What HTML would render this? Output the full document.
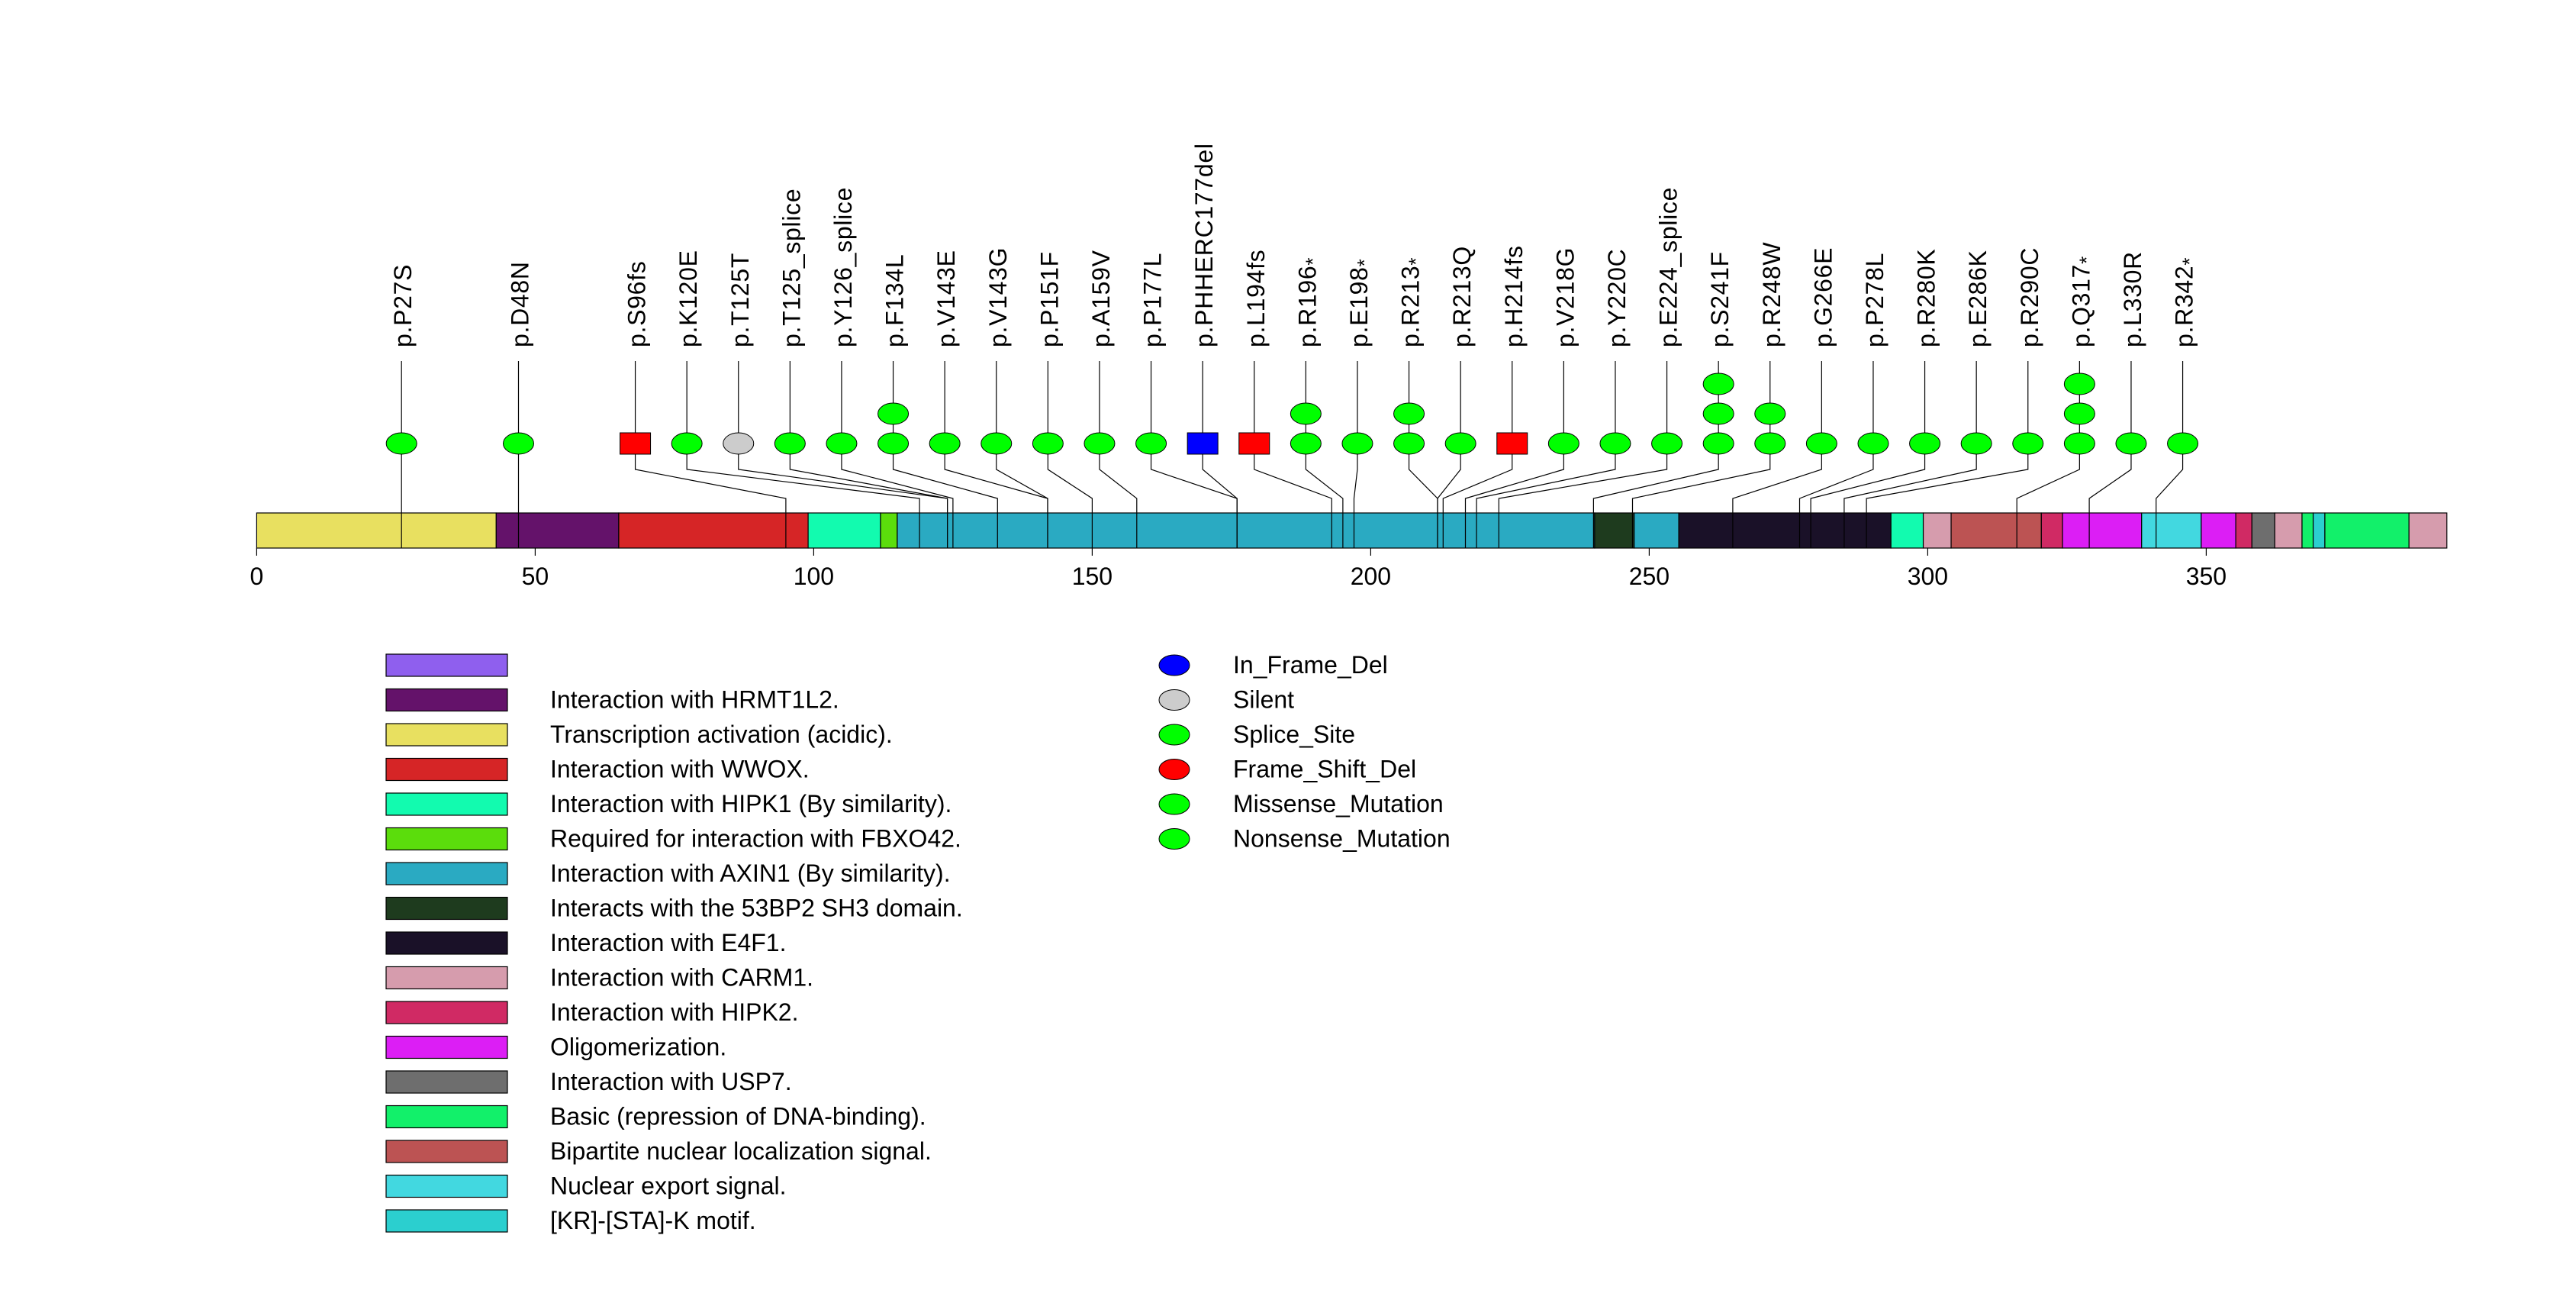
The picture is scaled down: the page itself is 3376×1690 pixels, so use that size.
<!DOCTYPE html>
<html><head><meta charset="utf-8"><style>
html,body{margin:0;padding:0;background:#fff;}
svg{display:block;font-family:"Liberation Sans",Arial,sans-serif;}
</style></head><body>
<svg id="chart" width="3376" height="1690" viewBox="0 0 3376 1690" xmlns="http://www.w3.org/2000/svg">
<rect width="3376" height="1690" fill="#fff"/>
<g id="domains"></g>
<g id="axis"></g>
<g id="stems"></g>
<g id="markers"></g>
<g id="labels"></g>
<g id="legend1"></g>
<g id="legend2"></g>
</svg>
<script>
const mutLabels = ["p.P27S","p.D48N","p.S96fs","p.K120E","p.T125T","p.T125_splice","p.Y126_splice","p.F134L","p.V143E","p.V143G","p.P151F","p.A159V","p.P177L","p.PHHERC177del","p.L194fs","p.R196*","p.E198*","p.R213*","p.R213Q","p.H214fs","p.V218G","p.Y220C","p.E224_splice","p.S241F","p.R248W","p.G266E","p.P278L","p.R280K","p.E286K","p.R290C","p.Q317*","p.L330R","p.R342*"];
const mutPos = [27,48,96,120,125,125,126,134,143,143,151,159,177,177,194,196,198,213,213,214,218,220,224,241,248,266,278,280,286,290,317,330,342];
const mutCount = [1,1,1,1,1,1,1,2,1,1,1,1,1,1,1,2,1,2,1,1,1,1,1,3,2,1,1,1,1,1,3,1,1];
const mutType = ["M","M","FS","M","S","SP","SP","M","M","M","M","M","M","IF","FS","N","N","N","M","FS","M","M","SP","M","M","M","M","M","M","M","N","M","N"];
const domStart = [0,43,65,99,112,115,240.2,247.3,255.3,293.4,299.2,304.2,320.4,324.2,338.4,349.1,355.3,358.2,362.3,367.2,369.2,371.3,386.4];
const domEnd   = [43,65,99,112,115,240.2,247.3,255.3,293.4,299.2,304.2,320.4,324.2,338.4,349.1,355.3,358.2,362.3,367.2,369.2,371.3,386.4,393.2];
const domColor = ["#e8e060","#64126a","#d62526","#12fbaf","#5bdd0c","#2aaac2","#1e3b1e","#2aaac2","#1a1128","#12fbaf","#d69cad","#bc5353","#d02a64","#dc1ef5","#42d8e0","#dc1ef5","#d02a64","#6e6e6e","#d69cad","#12f06a","#2bcfcf","#12f06a","#d69cad"];
const tickVals = [0,50,100,150,200,250,300,350];
const legNames = ["","Interaction with HRMT1L2.","Transcription activation (acidic).","Interaction with WWOX.","Interaction with HIPK1 (By similarity).","Required for interaction with FBXO42.","Interaction with AXIN1 (By similarity).","Interacts with the 53BP2 SH3 domain.","Interaction with E4F1.","Interaction with CARM1.","Interaction with HIPK2.","Oligomerization.","Interaction with USP7.","Basic (repression of DNA-binding).","Bipartite nuclear localization signal.","Nuclear export signal.","[KR]-[STA]-K motif."];
const legColors = ["#8f5fee","#64126a","#e8e060","#d62526","#12fbaf","#5bdd0c","#2aaac2","#1e3b1e","#1a1128","#d69cad","#d02a64","#dc1ef5","#6e6e6e","#12f06a","#bc5353","#42d8e0","#2bcfcf"];
const typeNames = ["In_Frame_Del","Silent","Splice_Site","Frame_Shift_Del","Missense_Mutation","Nonsense_Mutation"];
const typeColors = ["#0000ff","#cccccc","#00ff00","#ff0000","#00ff00","#00ff00"];

const NS="http://www.w3.org/2000/svg";
function mk(tag,attrs,parent){const e=document.createElementNS(NS,tag);for(const k in attrs)e.setAttribute(k,attrs[k]);parent.appendChild(e);return e;}
const X0=336.4, SC=7.3;
function xs(v){return X0+v*SC;}
function xa(aa){return xs(aa-1);}
const BAR_T=672, BAR_B=718;
const colorOf={M:"#00ff00",N:"#00ff00",SP:"#00ff00",S:"#cccccc",FS:"#ff0000",IF:"#0000ff"};

const gD=document.getElementById('domains');
for(let i=0;i<domStart.length;i++){
  const r=mk('rect',{x:xs(domStart[i]),y:BAR_T,width:xs(domEnd[i])-xs(domStart[i]),height:BAR_B-BAR_T,fill:domColor[i],stroke:"#000","stroke-width":1.2},gD);
  
  
}
const gA=document.getElementById('axis');
tickVals.forEach(v=>{
  const l=mk('line',{x1:xs(v),x2:xs(v),y1:BAR_B,y2:BAR_B+10,stroke:"#000","stroke-width":1.2},gA);
  
  
  const t=mk('text',{x:xs(v),y:766,"font-size":32,"text-anchor":"middle"},gA);
  t.textContent=v;
  
  
});
const SP=67.6;
const ideal=mutPos.map(xa);
let groups=ideal.map((x,i)=>({idx:[i],sum:x}));
let changed=true;
while(changed){
  changed=false;
  for(let g=0;g<groups.length-1;g++){
    const a=groups[g],b=groups[g+1];
    const aEnd=a.sum/a.idx.length+(a.idx.length-1)*SP/2;
    const bStart=b.sum/b.idx.length-(b.idx.length-1)*SP/2;
    if(bStart-aEnd<SP-0.01){groups.splice(g,2,{idx:a.idx.concat(b.idx),sum:a.sum+b.sum});changed=true;break;}
  }
}
const lx=[];
groups.forEach(g=>{const n=g.idx.length,c=g.sum/n;g.idx.forEach((i,k)=>{lx[i]=c+(k-(n-1)/2)*SP;});});

const gS=document.getElementById('stems'),gM=document.getElementById('markers'),gL=document.getElementById('labels');
const ROW1=581, ROWSTEP=39;
for(let i=0;i<mutPos.length;i++){
  const L=lx[i], I=ideal[i];
  const p=mk('polyline',{points:`${L},473 ${L},615 ${I},653 ${I},${BAR_B}`,fill:"none",stroke:"#000","stroke-width":1.2},gS);
  
  
  for(let k=0;k<mutCount[i];k++){
    const cy=ROW1-k*ROWSTEP;
    let m;
    if(mutType[i]==="FS"||mutType[i]==="IF"){
      m=mk('rect',{x:L-20,y:cy-14,width:40,height:28,fill:colorOf[mutType[i]],stroke:"#000","stroke-width":1},gM);
    }else{
      m=mk('ellipse',{cx:L,cy:cy,rx:20,ry:14,fill:colorOf[mutType[i]],stroke:"#000","stroke-width":1},gM);
    }
    
    
  }
  const t=mk('text',{x:0,y:0,"font-size":32,"letter-spacing":0.7,transform:`translate(${L+13},455) rotate(-90)`},gL);
  const lab=mutLabels[i];
  if(lab.endsWith('*')){
    t.textContent=lab.slice(0,-1);
    const ts=mk('tspan',{"font-size":26,dy:5},t);ts.textContent='*';
  } else t.textContent=lab;
  
  
}
const g1=document.getElementById('legend1');
legNames.forEach((n,i)=>{
  const y=857+i*45.5;
  const r=mk('rect',{x:506,y:y,width:159,height:29,fill:legColors[i],stroke:"#000","stroke-width":1.2},g1);
  
  
  const t=mk('text',{x:721,y:y+25,"font-size":32},g1);
  t.textContent=n;
  
  
});
const g2=document.getElementById('legend2');
typeNames.forEach((n,i)=>{
  const cy=871.5+i*45.5;
  const e=mk('ellipse',{cx:1539,cy:cy,rx:20,ry:13.5,fill:typeColors[i],stroke:"#000","stroke-width":1},g2);
  
  
  const t=mk('text',{x:1616,y:cy+10.5,"font-size":32},g2);
  t.textContent=n;
  
  
});
</script>
</body></html>
